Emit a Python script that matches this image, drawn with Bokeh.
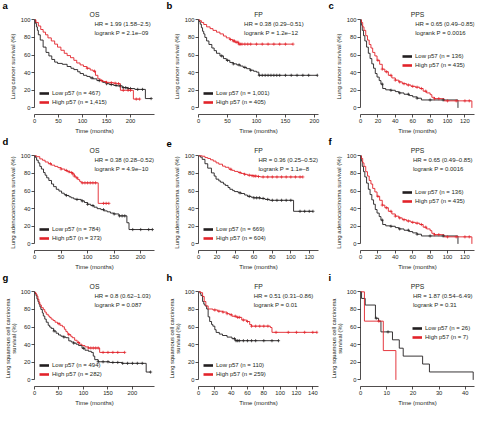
import numpy as np
from bokeh.plotting import figure
from bokeh.layouts import row, column
from bokeh.models import Label, Legend, LegendItem, FixedTicker, Range1d, Title
from bokeh.embed import file_html
from bokeh.resources import INLINE

# ---------------- data ----------------
# a: lung cancer, OS
a_low_t = [0, 2, 4, 6, 8, 12, 18, 24, 30, 36, 42, 48, 58, 68, 76, 82, 90, 95, 102, 109, 116, 122, 130, 142, 150, 156, 165, 172, 183, 195, 209, 231, 243]
a_low_s = [100, 96, 92, 88, 83, 77, 69, 63, 59, 55, 52, 50.5, 49.5, 47, 45, 43.5, 41, 39, 37, 35.7, 34, 33, 31, 29, 27.5, 26.5, 25.5, 25, 23, 22, 21, 10.6, 10.6]
a_low_c = [120, 135, 150, 160, 170, 178, 185, 190, 195, 200, 215, 225, 243]
a_high_t = [0, 3, 8, 13, 18, 23, 28, 35, 42, 48, 55, 62, 68, 75, 82, 88, 95, 102, 109, 116, 122, 127, 132, 137, 142, 150, 156, 165, 172, 179, 206, 219]
a_high_s = [100, 97, 93, 89, 86, 83, 79.5, 76, 72.4, 69, 65.4, 62, 59.4, 57, 54, 51, 48.8, 47, 45, 43, 41.7, 37, 33, 31, 30, 29, 28.6, 28, 27.5, 20, 10, 10]
a_high_c = [110, 125, 140, 150, 160, 168, 175, 185, 195, 200, 212, 219]

# b: lung cancer, FP
b_low_t = [0, 1, 3, 5, 7, 9, 11, 14, 18, 23, 27, 31, 37, 43, 48, 54, 60, 66, 72, 77, 83, 89, 95, 100, 104, 205]
b_low_s = [100, 98, 95, 91, 87, 84, 80, 76, 72, 68, 65, 62, 59, 56, 54, 51.6, 50, 48.8, 47.5, 46, 44.5, 42.8, 41.6, 40.6, 37, 37]
b_low_c = [40, 50, 60, 70, 80, 90, 105, 110, 115, 120, 125, 130, 135, 140, 150, 160, 170, 180, 190, 205]
b_high_t = [0, 2, 5, 9, 14, 20, 25, 31, 37, 43, 48, 54, 59, 63, 69, 163]
b_high_s = [100, 99, 97, 94.7, 92, 90, 88, 86, 84, 81.6, 79.5, 77.7, 76, 74.6, 72.4, 72.4]
b_high_c = [55, 60, 62, 65, 68, 70, 72, 75, 80, 85, 90, 100, 110, 120, 130, 140, 150, 163]

# c / f: PPS
c_low_t = [0, 1, 2, 3.5, 5, 7, 9, 11, 13, 15, 17, 19, 21.5, 23.5, 25.5, 29, 35, 40, 44, 50, 56, 60, 65, 70, 112]
c_low_s = [100, 94, 88, 82, 76, 69, 62, 56, 50, 45, 39, 35, 31, 27, 22, 20.5, 20, 18.5, 17, 15.5, 14, 12.5, 11, 9, 0]
c_low_c = [25, 35, 45, 55, 65, 80, 95]
c_high_t = [0, 1, 2.5, 4, 6, 8, 10, 12, 14, 16.5, 19, 22, 25, 28, 32, 36, 40, 44, 48, 53, 58, 63, 68, 72, 76, 80, 82, 85, 96, 128]
c_high_s = [100, 97, 92, 88, 82, 77, 72, 68, 63, 59, 54, 49.5, 44, 41, 37, 34, 31.5, 29.5, 27.5, 26, 24.5, 23.5, 22, 19, 17, 15, 12, 10.5, 8, 0]
c_high_c = [20, 25, 30, 35, 40, 45, 50, 55, 60, 65, 70, 75, 85, 90, 100, 110, 120, 125]

# d: adenocarcinoma, OS
d_low_t = [0, 2, 4, 7, 10, 13, 17, 20, 23, 27, 32, 36, 41, 46, 51, 56, 60, 65, 69, 74, 78, 88, 94, 100, 106, 112, 118, 125, 131, 137, 143, 149, 159, 174, 178, 222]
d_low_s = [100, 98, 95, 92, 88, 85, 81, 78, 75, 72, 68, 65, 62, 60, 57.6, 56, 55, 53.5, 52.3, 51, 50.5, 48.8, 47, 45, 43.5, 41.7, 40, 38.9, 37.5, 36.4, 35, 34, 31.8, 24, 16.3, 16.3]
d_low_c = [60, 80, 90, 100, 110, 130, 150, 160, 165, 170, 185, 200, 215, 222]
d_high_t = [0, 4, 10, 15, 20, 26, 32, 38, 44, 50, 57, 62, 66, 72, 75, 78, 81.5, 85, 88, 120, 140]
d_high_s = [100, 99, 96.5, 95, 93, 91, 89.4, 88, 86.6, 85, 83.4, 82, 81, 79.5, 77, 75, 73, 71, 69.3, 46, 46]
d_high_c = [30, 50, 60, 65, 70, 72, 75, 80, 90, 95, 100, 105, 110, 115, 130, 135, 140]

# e: adenocarcinoma, FP
e_low_t = [0, 2, 4, 7, 10, 14, 17, 19, 22, 24, 27, 29, 32, 34, 37, 39, 43, 46, 50, 53, 57, 60, 67, 72, 77, 103, 124]
e_low_s = [100, 98.5, 96, 91, 86, 80.6, 77, 73.5, 71.5, 70, 68, 66.4, 64, 62, 60.5, 59.4, 58, 57.2, 55.5, 54, 53, 52.3, 51.6, 50.5, 49.5, 37, 37]
e_low_c = [45, 55, 60, 63, 66, 70, 75, 80, 85, 90, 95, 100, 110, 115, 120, 124]
e_high_t = [0, 4, 7, 10, 13, 16, 19, 22, 26, 29, 33, 36, 39, 43, 46, 50, 53, 57, 60, 64, 67, 113]
e_high_s = [100, 99.5, 98, 97, 95.5, 94, 92, 90.5, 88.3, 87, 84.8, 83.5, 82.3, 81, 80, 79, 78, 77.5, 77, 76.5, 76, 76]
e_high_c = [35, 45, 50, 55, 58, 60, 62, 65, 70, 75, 80, 85, 90, 95, 100, 105, 110, 113]

# g: squamous, OS
g_low_t = [0, 1, 3, 5, 7, 9, 11, 13, 16, 18, 21, 24, 28, 31, 34, 39, 44, 49, 54, 59, 64, 70, 75, 80, 85, 90, 97, 103, 110, 116, 120, 123, 130, 153, 179, 228, 237]
g_low_s = [100, 98, 95.7, 92, 89, 86, 83, 80, 76, 72.5, 69, 65.5, 62, 60, 58.5, 55.5, 53, 51, 49.6, 48.7, 47.9, 44.3, 43, 41.8, 40.5, 39, 36, 33.7, 32.5, 31.2, 27, 23, 20.6, 19.8, 18.8, 8.9, 8.9]
g_low_c = [40, 60, 80, 100, 130, 140, 150, 160, 170, 180, 190, 200, 210, 220, 237]
g_high_t = [0, 1, 3, 5, 7, 9, 11, 14, 18, 21, 24, 28, 31, 34, 38, 42, 47, 52, 57, 61, 64, 67, 70, 74, 77, 82, 87, 92, 97, 103, 110, 133, 184]
g_high_s = [100, 99, 97.5, 95, 91.5, 88, 85, 82, 79.8, 77, 74.5, 72.5, 70.9, 69, 67.4, 65.5, 63.8, 62, 60.3, 57.5, 55, 53, 51.4, 49.5, 47.9, 45, 42.5, 40.5, 39, 37.5, 36.2, 31.2, 31.2]
g_high_c = [50, 70, 90, 110, 115, 120, 125, 130, 140, 150, 160, 170, 184]

# h: squamous, FP
h_low_t = [0, 2, 3, 5, 6.5, 8, 10, 11.8, 13.7, 16, 17.6, 20, 21.6, 25.5, 29.4, 35, 41, 45, 98]
h_low_s = [100, 98, 95.7, 89, 86, 84, 80.5, 71.6, 66.3, 63, 61, 57, 53.9, 52, 50.4, 48.6, 46.8, 44.5, 44.5]
h_low_c = [44, 46, 48, 50, 55, 60, 65, 70, 80, 90, 98]
h_high_t = [0, 2.7, 5, 7, 9, 11.8, 17.6, 23.5, 29.4, 35, 38, 41, 47, 53, 59, 62.7, 65, 88, 90, 145]
h_high_s = [100, 99, 94.7, 89, 84, 80.5, 79.4, 78, 77, 75.2, 74, 72.3, 71, 68, 66.3, 62.8, 61, 59.5, 54, 54]
h_high_c = [20, 25, 30, 35, 40, 45, 48, 50, 55, 60, 65, 70, 75, 80, 85, 95, 110, 120, 130, 140, 145]

# i: squamous, PPS
i_low_t = [0, 0.4, 1.8, 5.7, 6.9, 7.8, 12.2, 14.8, 16.3, 23.7, 26.3, 43]
i_low_s = [100, 92.5, 85, 70, 66.7, 54.5, 45.5, 36, 27, 18, 9, 0]
i_low_c = [6, 10.5]
i_high_t = [0, 1.5, 8.7, 13.5]
i_high_s = [100, 66.7, 33.3, 0]
i_high_c = [7]

letters = ["a", "b", "c", "d", "e", "f", "g", "h", "i"]
titles = ["OS", "FP", "PPS", "OS", "FP", "PPS", "OS", "FP", "PPS"]
ylabels = ["Lung cancer survival (%)",
           "Lung adenocarcinoma survival (%)",
           "Lung squamous cell carcinoma\nsurvival (%)"]
n_low = ["467", "1,001", "136", "784", "669", "136", "494", "110", "26"]
n_high = ["1,415", "405", "435", "373", "604", "435", "282", "259", "7"]
hr_text = ["HR = 1.99 (1.58–2.5)", "HR = 0.38 (0.29–0.51)", "HR = 0.65 (0.49–0.85)",
           "HR = 0.38 (0.28–0.52)", "HR = 0.36 (0.25–0.52)", "HR = 0.65 (0.49–0.85)",
           "HR = 0.8 (0.62–1.03)", "HR = 0.51 (0.31–0.86)", "HR = 1.87 (0.54–6.49)"]
p_text = ["logrank P = 2.1e−09", "logrank P = 1.2e−12", "logrank P = 0.0016",
          "logrank P = 4.9e−10", "logrank P = 1.1e−8", "logrank P = 0.0016",
          "logrank P = 0.087", "logrank P = 0.01", "logrank P = 0.31"]
x_ends = [250, 207, 131, 226, 130, 131, 245, 147, 43.5]
x_ticks = [[0, 50, 100, 150, 200], [0, 50, 100, 150, 200], [0, 20, 40, 60, 80, 100, 120],
           [0, 50, 100, 150, 200], [0, 20, 40, 60, 80, 100, 120], [0, 20, 40, 60, 80, 100, 120],
           [0, 50, 100, 150, 200], [0, 20, 40, 60, 80, 100, 120, 140], [0, 10, 20, 30, 40]]
y_ticks = [0, 20, 40, 60, 80, 100]

curves = [
    (a_low_t, a_low_s, a_low_c, a_high_t, a_high_s, a_high_c),
    (b_low_t, b_low_s, b_low_c, b_high_t, b_high_s, b_high_c),
    (c_low_t, c_low_s, c_low_c, c_high_t, c_high_s, c_high_c),
    (d_low_t, d_low_s, d_low_c, d_high_t, d_high_s, d_high_c),
    (e_low_t, e_low_s, e_low_c, e_high_t, e_high_s, e_high_c),
    (c_low_t, c_low_s, c_low_c, c_high_t, c_high_s, c_high_c),
    (g_low_t, g_low_s, g_low_c, g_high_t, g_high_s, g_high_c),
    (h_low_t, h_low_s, h_low_c, h_high_t, h_high_s, h_high_c),
    (i_low_t, i_low_s, i_low_c, i_high_t, i_high_s, i_high_c),
]

# ---------------- styling / layout ----------------
FONT = "Liberation Sans"
BLACK = "#231f20"
RED = "#e2232a"
COLS = [(164, 34, 10), (162, 34, 8), (152, 34, 4)]   # figure width, left, right
ROW_H = 136
TOP, BOTTOM = 12, 17
HR_FRAC = [0.50, 0.38, 0.48, 0.50, 0.50, 0.46, 0.50, 0.46, 0.46]   # left edge of HR text, share of x range
LEG_XY = [(5, 8), (5, 8), (42, 45), (5, 8), (5, 8), (42, 45), (5, 8), (5, 8), (52, 45)]


def censor_y(t, s, c):
    idx = np.searchsorted(np.asarray(t, float), np.asarray(c, float), side="right") - 1
    return np.asarray(s, float)[idx]


def panel(k):
    r, cidx = divmod(k, 3)
    w, ml, mr = COLS[cidx]
    lt, ls, lc, ht, hs, hc = curves[k]
    p = figure(width=w, height=ROW_H, title=None,
               min_border_left=ml, min_border_right=mr,
               min_border_top=TOP, min_border_bottom=BOTTOM,
               x_range=Range1d(0, x_ends[k]), y_range=Range1d(-7.5, 101.5),
               output_backend="svg", toolbar_location=None, tools="")
    p.outline_line_color = None
    p.xgrid.visible = False
    p.ygrid.visible = False

    # titles: panel name (inner) and panel letter (outer, pulled down)
    p.add_layout(Title(text=titles[k], align="center", text_font=FONT,
                       text_font_size="6.8px", text_font_style="normal",
                       text_color=BLACK, standoff=1, offset=0), "above")
    p.add_layout(Title(text=letters[k], align="left", text_font=FONT,
                       text_font_size="9.5px", text_font_style="bold",
                       text_color="#000000", standoff=-5, offset=-ml + 2), "above")

    # curves
    p.step(lt, ls, mode="after", line_color=BLACK, line_width=0.9)
    p.step(ht, hs, mode="after", line_color=RED, line_width=0.9)
    p.scatter(lc, censor_y(lt, ls, lc), marker="cross", size=3.2,
              line_color=BLACK, line_width=0.7)
    p.scatter(hc, censor_y(ht, hs, hc), marker="cross", size=3.2,
              line_color=RED, line_width=0.7)

    # legend with thick keys (renderers hold no visible data)
    r_low = p.line(x=[np.nan], y=[np.nan], line_color=BLACK, line_width=2.6)
    r_high = p.line(x=[np.nan], y=[np.nan], line_color=RED, line_width=2.6)
    leg = Legend(items=[LegendItem(label="Low p57 (n = %s)" % n_low[k], renderers=[r_low]),
                        LegendItem(label="High p57 (n = %s)" % n_high[k], renderers=[r_high])],
                 location=LEG_XY[k], orientation="vertical",
                 label_text_font=FONT, label_text_font_size="6px",
                 label_text_color=BLACK, label_height=8, label_standoff=3,
                 glyph_width=10, glyph_height=6, spacing=1, padding=0, margin=0,
                 background_fill_alpha=0, border_line_color=None)
    p.add_layout(leg)

    # axes
    for ax in (p.xaxis[0], p.yaxis[0]):
        ax.axis_line_color = BLACK
        ax.axis_line_width = 0.8
        ax.major_tick_line_color = BLACK
        ax.major_tick_line_width = 0.8
        ax.major_tick_out = 3
        ax.major_tick_in = 0
        ax.minor_tick_line_color = None
        ax.major_label_text_font = FONT
        ax.major_label_text_font_size = "5.8px"
        ax.major_label_text_color = BLACK
        ax.major_label_standoff = 1
        ax.axis_label_text_font = FONT
        ax.axis_label_text_font_size = "6px"
        ax.axis_label_text_font_style = "normal"
        ax.axis_label_text_color = BLACK
        ax.axis_label_standoff = 2
    p.xaxis.ticker = FixedTicker(ticks=x_ticks[k])
    p.yaxis.ticker = FixedTicker(ticks=y_ticks)
    p.yaxis.bounds = (0, 100)
    p.xaxis.axis_label = "Time (months)"
    p.yaxis.axis_label = ylabels[r]
    if r == 2:
        p.yaxis.axis_label_standoff = 1
        p.yaxis.axis_label_text_font_size = "5.8px"
        p.yaxis.axis_label_text_line_height = 1.0

    # HR / logrank texts
    hx = HR_FRAC[k] * x_ends[k]
    p.add_layout(Label(x=hx, y=95.5, text=hr_text[k], text_font=FONT, text_font_size="6px",
                       text_color=BLACK, text_baseline="middle", text_align="left"))
    p.add_layout(Label(x=hx, y=85.5, text=p_text[k], text_font=FONT, text_font_size="6px",
                       text_color=BLACK, text_baseline="middle", text_align="left"))
    return p


figs = [panel(k) for k in range(9)]
layout = column(row(figs[0], figs[1], figs[2]),
                row(figs[3], figs[4], figs[5]),
                row(figs[6], figs[7], figs[8]))

open("out.html", "w").write(file_html(layout, INLINE))
